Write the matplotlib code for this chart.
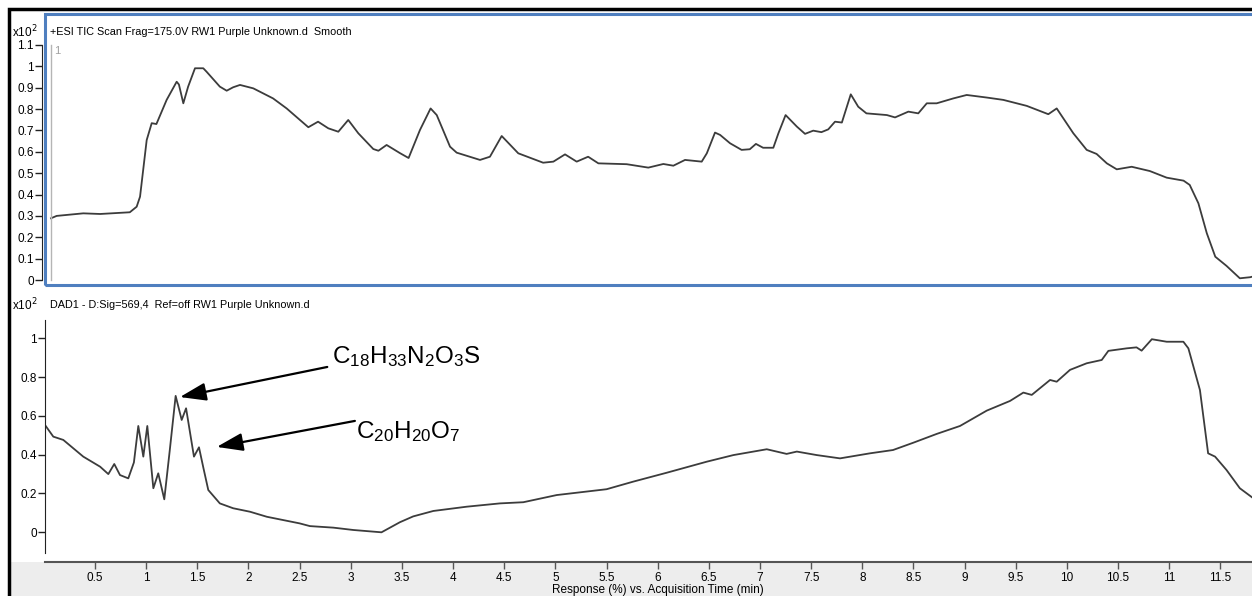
#!/usr/bin/env python3
"""
Two-panel LC/MS chromatogram: ESI TIC (top) and DAD1 569 nm trace (bottom).
"""

import matplotlib
matplotlib.use("Agg")
import matplotlib.pyplot as plt
from matplotlib.patches import Rectangle

plt.rcParams['font.family'] = ['Liberation Sans', 'DejaVu Sans']

# --- TIC trace (x10^2 response) ---
tic_time = [0.07, 0.125, 0.385, 0.55, 0.84, 0.907, 0.94, 1.005, 1.054, 1.10,
            1.20, 1.298, 1.32, 1.363, 1.41, 1.477, 1.558, 1.59, 1.72, 1.787,
            1.85, 1.917, 2.047, 2.24, 2.373, 2.503, 2.585, 2.68, 2.78, 2.878,
            2.975, 3.073, 3.22, 3.27, 3.35, 3.48, 3.565, 3.676, 3.78, 3.84,
            3.97, 4.035, 4.263, 4.36, 4.475, 4.637, 4.88, 4.98, 5.094, 5.208,
            5.32, 5.42, 5.697, 5.908, 6.055, 6.153, 6.267, 6.43, 6.48, 6.56,
            6.61, 6.707, 6.82, 6.90, 6.96, 7.03, 7.13, 7.18, 7.25, 7.36,
            7.44, 7.52, 7.60, 7.667, 7.733, 7.80, 7.887, 7.96, 8.04, 8.24,
            8.32, 8.45, 8.547, 8.63, 8.727, 8.89, 9.02, 9.216, 9.378, 9.607,
            9.818, 9.90, 10.062, 10.193, 10.29, 10.39, 10.487, 10.633, 10.81, 10.975,
            11.14, 11.20, 11.285, 11.367, 11.45, 11.56, 11.69, 11.79, 11.85]
tic_resp = [0.289, 0.300, 0.312, 0.309, 0.317, 0.343, 0.390, 0.655, 0.734, 0.730,
            0.843, 0.928, 0.915, 0.827, 0.905, 0.991, 0.991, 0.975, 0.905, 0.886,
            0.902, 0.913, 0.897, 0.850, 0.803, 0.749, 0.715, 0.741, 0.710, 0.694,
            0.749, 0.687, 0.613, 0.605, 0.632, 0.594, 0.571, 0.702, 0.803, 0.772,
            0.624, 0.596, 0.562, 0.577, 0.674, 0.593, 0.549, 0.554, 0.588, 0.554,
            0.577, 0.546, 0.542, 0.526, 0.543, 0.535, 0.562, 0.554, 0.593, 0.690,
            0.679, 0.640, 0.609, 0.612, 0.637, 0.619, 0.619, 0.687, 0.772, 0.718,
            0.684, 0.699, 0.692, 0.705, 0.741, 0.737, 0.869, 0.811, 0.780, 0.772,
            0.761, 0.788, 0.780, 0.827, 0.827, 0.850, 0.866, 0.854, 0.843, 0.815,
            0.776, 0.803, 0.687, 0.609, 0.590, 0.546, 0.518, 0.530, 0.510, 0.479,
            0.465, 0.445, 0.359, 0.219, 0.109, 0.066, 0.008, 0.013, 0.020]

# --- DAD1 trace (x10^2 response) ---
dad_time = [0.015, 0.092, 0.19, 0.385, 0.55, 0.63, 0.688, 0.744, 0.825, 0.88,
            0.923, 0.972, 1.011, 1.07, 1.118, 1.177, 1.23, 1.288, 1.347, 1.39,
            1.467, 1.516, 1.56, 1.607, 1.72, 1.85, 2.015, 2.18, 2.34, 2.50,
            2.60, 2.83, 3.024, 3.30, 3.48, 3.61, 3.807, 4.133, 4.458, 4.686,
            5.013, 5.50, 5.76, 6.088, 6.48, 6.74, 7.066, 7.26, 7.36, 7.554,
            7.782, 8.075, 8.30, 8.50, 8.727, 8.955, 9.216, 9.444, 9.574, 9.656,
            9.835, 9.90, 10.03, 10.193, 10.34, 10.405, 10.585, 10.68, 10.73, 10.83,
            10.975, 11.138, 11.187, 11.30, 11.38, 11.448, 11.56, 11.69, 11.81]
dad_resp = [0.550, 0.493, 0.476, 0.390, 0.338, 0.300, 0.352, 0.295, 0.278, 0.36,
            0.548, 0.390, 0.548, 0.227, 0.304, 0.170, 0.42, 0.703, 0.579, 0.639,
            0.390, 0.438, 0.33, 0.218, 0.149, 0.124, 0.106, 0.080, 0.063, 0.046,
            0.032, 0.024, 0.012, 0.000, 0.052, 0.082, 0.110, 0.132, 0.149, 0.155,
            0.192, 0.222, 0.261, 0.307, 0.364, 0.398, 0.428, 0.404, 0.416, 0.398,
            0.381, 0.407, 0.424, 0.462, 0.507, 0.548, 0.627, 0.677, 0.720, 0.708,
            0.785, 0.776, 0.837, 0.871, 0.888, 0.935, 0.948, 0.953, 0.936, 0.995,
            0.982, 0.982, 0.948, 0.733, 0.407, 0.390, 0.321, 0.227, 0.180]

tic_yticks = [0, 0.1, 0.2, 0.3, 0.4, 0.5, 0.6, 0.7, 0.8, 0.9, 1, 1.1]
tic_ylabels = ['0', '0.1', '0.2', '0.3', '0.4', '0.5', '0.6', '0.7', '0.8', '0.9', '1', '1.1']
dad_yticks = [0, 0.2, 0.4, 0.6, 0.8, 1]
dad_ylabels = ['0', '0.2', '0.4', '0.6', '0.8', '1']
time_ticks = [0.5, 1, 1.5, 2, 2.5, 3, 3.5, 4, 4.5, 5, 5.5, 6, 6.5, 7, 7.5, 8,
              8.5, 9, 9.5, 10, 10.5, 11, 11.5]
time_labels = ['0.5', '1', '1.5', '2', '2.5', '3', '3.5', '4', '4.5', '5', '5.5', '6',
               '6.5', '7', '7.5', '8', '8.5', '9', '9.5', '10', '10.5', '11', '11.5']

tic_title = "+ESI TIC Scan Frag=175.0V RW1 Purple Unknown.d  Smooth"
dad_title = "DAD1 - D:Sig=569,4  Ref=off RW1 Purple Unknown.d"
xlabel = "Response (%) vs. Acquisition Time (min)"

# annotation anchors (time, response) in the DAD panel
label1 = r"$\mathregular{C_{18}H_{33}N_2O_3S}$"
label2 = r"$\mathregular{C_{20}H_{20}O_7}$"
tip1, tail1, text1 = (1.33, 0.697), (2.77, 0.852), (2.82, 0.905)
tip2, tail2, text2 = (1.69, 0.44), (3.04, 0.574), (3.05, 0.52)

W, H = 1252, 596
fig = plt.figure(figsize=(W / 100, H / 100), dpi=100)
fig.patch.set_facecolor('white')

def fx(px):
    return px / W

def fy(py):
    return 1 - py / H

line_color = '#3c3c3c'
tick_font = 8.5
xlim = (0.011, 11.848)

# gray band under bottom axis and outer black frame
fig.patches.append(Rectangle((fx(10), 0), fx(W) - fx(10), fy(562), transform=fig.transFigure,
                             facecolor='#ededed', edgecolor='none', zorder=-1))
fig.patches.append(Rectangle((fx(9), fy(H + 5)), fx(W + 10) - fx(9), fy(9) - fy(H + 5),
                             transform=fig.transFigure, facecolor='none',
                             edgecolor='black', linewidth=2.5, zorder=5))

# ---- top panel: TIC ----
ax1 = fig.add_axes([fx(45), fy(285), fx(1256) - fx(45), fy(14) - fy(285)])
ax1.plot(tic_time, tic_resp, color=line_color, linewidth=1.3)
ax1.set_xlim(*xlim)
ax1.set_ylim(-0.0234, 1.245)
for s in ['top', 'right', 'bottom']:
    ax1.spines[s].set_visible(False)
ax1.spines['left'].set_bounds(0, 1.1)
ax1.spines['left'].set_position(('outward', 2))
ax1.spines['left'].set_color('#222222')
ax1.set_xticks([])
ax1.set_yticks(tic_yticks)
ax1.set_yticklabels(tic_ylabels)
ax1.tick_params(axis='y', length=5, width=1, pad=1, labelsize=tick_font, color='#222222')
ax1.add_patch(Rectangle((0, 0), 1.01, 1, transform=ax1.transAxes, facecolor='none',
                        edgecolor='#4f7fbf', linewidth=2.2, clip_on=False, zorder=4))
ax1.plot([0.07, 0.07], [0, 1.1], color='#b5b5b5', linewidth=1)
ax1.text(0.1, 1.07, '1', color='#a0a0a0', fontsize=8, va='center')

# ---- bottom panel: DAD ----
ax2 = fig.add_axes([fx(45), fy(562), fx(1256) - fx(45), fy(320) - fy(562)])
ax2.plot(dad_time, dad_resp, color=line_color, linewidth=1.3)
ax2.set_xlim(*xlim)
ax2.set_ylim(-0.153, 1.094)
ax2.spines['top'].set_visible(False)
ax2.spines['right'].set_visible(False)
ax2.spines['left'].set_bounds(-0.107, 1.094)
ax2.spines['left'].set_color('#222222')
ax2.spines['bottom'].set_color('#555555')
ax2.spines['bottom'].set_linewidth(1.5)
ax2.set_yticks(dad_yticks)
ax2.set_yticklabels(dad_ylabels)
ax2.set_xticks(time_ticks)
ax2.set_xticklabels(time_labels)
ax2.tick_params(axis='y', length=5, width=1, pad=1, labelsize=tick_font, color='#222222')
ax2.tick_params(axis='x', length=5, width=1, pad=2, labelsize=tick_font, color='#555555')

arrow = dict(arrowstyle='-|>,head_length=1.6,head_width=0.55', color='black', lw=1.6,
             mutation_scale=10, shrinkA=0, shrinkB=0)
ax2.annotate('', xy=tip1, xytext=tail1, arrowprops=arrow)
ax2.annotate('', xy=tip2, xytext=tail2, arrowprops=arrow)
ax2.text(*text1, label1, fontsize=17.5, va='center', ha='left')
ax2.text(*text2, label2, fontsize=17.5, va='center', ha='left')

# titles and multipliers
fig.text(fx(12), fy(32), r"x10$^{2}$", fontsize=8.5, va='center', ha='left')
fig.text(fx(50), fy(32), tic_title, fontsize=7.8, va='center', ha='left')
fig.text(fx(12), fy(305), r"x10$^{2}$", fontsize=8.5, va='center', ha='left')
fig.text(fx(50), fy(305), dad_title, fontsize=7.8, va='center', ha='left')
fig.text(fx(658), fy(590), xlabel, fontsize=8.5, va='center', ha='center')

fig.savefig('out.png', dpi=100, facecolor='white')
